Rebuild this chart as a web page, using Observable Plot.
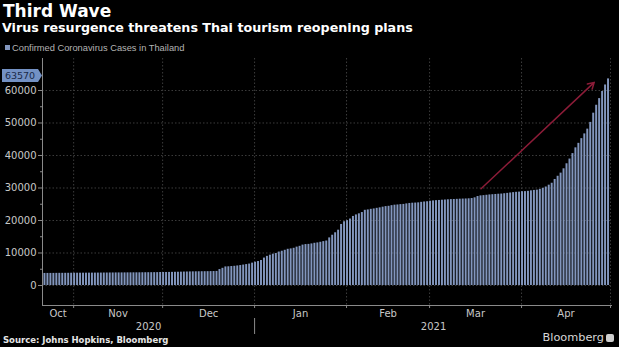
<!DOCTYPE html>
<html>
<head>
<meta charset="utf-8">
<script src="https://cdn.jsdelivr.net/npm/d3@7"></script>
<script src="https://cdn.jsdelivr.net/npm/@observablehq/plot@0.6"></script>
<style>
  html, body { margin: 0; padding: 0; background: #000; }
  body { width: 619px; height: 347px; overflow: hidden; position: relative; font-family: "DejaVu Sans", sans-serif; }
  #title { position: absolute; left: 3px; top: 3px; font: bold 17px/17px "DejaVu Sans"; color: #fff; white-space: nowrap; }
  #subtitle { position: absolute; left: 2px; top: 21px; font: bold 12.7px/13px "DejaVu Sans"; color: #fff; white-space: nowrap; }
  #legend { position: absolute; left: 5px; top: 43px; font: 9.3px/10px "Liberation Sans", sans-serif; color: #b4b4b4; white-space: nowrap; }
  #legend .sw { display: inline-block; width: 5px; height: 5px; background: #8296bd; margin-right: 2px; vertical-align: 1px; }
  #chart { position: absolute; left: 0; top: 56px; }
  #source { position: absolute; left: 3px; top: 335px; font: bold 8.5px/10px "DejaVu Sans"; color: #e6e6e6; white-space: nowrap; }
  #brand { position: absolute; right: 15px; top: 332px; font: 11.3px/12px "DejaVu Sans"; color: #d8d8d8; white-space: nowrap; }
  #logo { position: absolute; right: 5px; top: 334px; width: 8px; height: 8px; border-radius: 2px; background: #cfcfcf; }
</style>
</head>
<body>
<div id="title">Third Wave</div>
<div id="subtitle">Virus resurgence threatens Thai tourism reopening plans</div>
<div id="legend"><span class="sw"></span>Confirmed Coronavirus Cases in Thailand</div>
<div id="chart"></div>
<div id="source">Source: Johns Hopkins, Bloomberg</div>
<div id="brand">Bloomberg</div>
<div id="logo"></div>
<script>
// ---- Data (cumulative confirmed cases, one bar per day from 22 Oct 2020) ----
const firstDay = new Date(Date.UTC(2020, 9, 22));
const octValues = [3709, 3712, 3717, 3722, 3734, 3743, 3746, 3752, 3759, 3775];
const novValues = [3780, 3784, 3787, 3790, 3794, 3800, 3806, 3812, 3821, 3826,
                   3836, 3841, 3852, 3856, 3869, 3873, 3875, 3880, 3888, 3893,
                   3901, 3902, 3910, 3920, 3929, 3941, 3945, 3954, 3961, 3998];
const decValues = [4000, 4008, 4024, 4042, 4067, 4081, 4107, 4136, 4156, 4180,
                   4199, 4211, 4225, 4237, 4246, 4261, 4281, 4297, 4331, 4907,
                   5289, 5716, 5762, 5840, 5910, 6020, 6141, 6285, 6440, 6594, 6884];
const janValues = [7163, 7379, 7694, 8439, 8966, 9331, 9636, 9841, 10298, 10547,
                   10834, 11141, 11262, 11450, 11809, 12054, 12428, 12594, 12653, 12795,
                   12990, 13104, 13300, 13500, 13687, 14646, 15465, 16221, 17023, 18782, 19618];
const febValues = [19952, 20454, 21249, 21716, 22058, 22453, 23134, 23250, 23439, 23557,
                   23743, 23899, 24104, 24279, 24371, 24571, 24714, 24783, 24888, 24949,
                   25111, 25241, 25323, 25365, 25433, 25589, 25693, 25773];
const marValues = [25927, 26031, 26108, 26162, 26241, 26301, 26370, 26438, 26469, 26508,
                   26560, 26598, 26628, 26679, 26762, 26973, 27377, 27577, 27652, 27762,
                   27873, 27938, 28006, 28083, 28135, 28236, 28346, 28469, 28577, 28675, 28734];
const aprValues = [28863, 28889, 28977, 29127, 29254, 29341, 29575, 29905, 30310, 30869,
                   31462, 32625, 33610, 34575, 35910, 37453, 38911, 40585, 42352, 43742,
                   45185, 46643, 48113, 50183, 53022, 55460, 57508, 59687, 61699, 63570];

const monthLabels = ["Oct", "Nov", "Dec", "Jan", "Feb", "Mar", "Apr"];
const yearLabels = ["2020", "2021"];
const yTicks = [0, 10000, 20000, 30000, 40000, 50000, 60000];
const yMinorTicks = [5000, 15000, 25000, 35000, 45000, 55000];

// trend arrow (dates / case counts)
const arrowDates = [new Date(Date.UTC(2021, 2, 18, 8)), new Date(Date.UTC(2021, 3, 25, 12))];
const arrowCases = [29750, 62500];

// ---- Build table ----
const cases = [...octValues, ...novValues, ...decValues, ...janValues, ...febValues, ...marValues, ...aprValues];
const data = cases.map((v, i) => ({date: d3.utcDay.offset(firstDay, i), value: v}));
const lastValue = cases[cases.length - 1];

const xDomain = [new Date(Date.UTC(2020, 9, 21, 12)), new Date(Date.UTC(2021, 4, 1, 16))];
const yDomain = [-6154, 69846];

const monthStarts = d3.utcMonths(d3.utcMonth.ceil(xDomain[0]), xDomain[1]);
const firstMonth = d3.utcMonth.floor(firstDay);
const monthMid = monthLabels.map((lab, i) => {
  const a = Math.max(+d3.utcMonth.offset(firstMonth, i), +xDomain[0]);
  const b = Math.min(+d3.utcMonth.offset(firstMonth, i + 1), +xDomain[1]);
  return {t: new Date((a + b) / 2), label: lab};
});
const monthLabelByTime = new Map(monthMid.map(d => [+d.t, d.label]));
const yearBreaks = d3.utcYears(d3.utcYear.ceil(xDomain[0]), xDomain[1]);
const yearBounds = [xDomain[0], ...yearBreaks, xDomain[1]];
const yearMid = yearLabels.map((lab, i) => ({t: new Date((+yearBounds[i] + +yearBounds[i + 1]) / 2), label: lab}));
const yearLabelByTime = new Map(yearMid.map(d => [+d.t, d.label]));

const barColor = "#8296bd";
const gridColor = "#3c3c3c";
const axisColor = "#8a8a8a";
const textColor = "#c8c8c8";

const plot = Plot.plot({
  width: 619,
  height: 282,
  marginLeft: 42,
  marginRight: 7,
  marginTop: 2,
  marginBottom: 33,
  style: {background: "transparent", color: textColor, fontFamily: "DejaVu Sans", fontSize: "10px", overflow: "visible"},
  x: {type: "utc", domain: xDomain},
  y: {domain: yDomain},
  marks: [
    Plot.gridY(yTicks, {stroke: gridColor, strokeOpacity: 1, strokeDasharray: "1.5,2"}),
    Plot.gridX(monthStarts, {stroke: gridColor, strokeOpacity: 1, strokeDasharray: "1.5,2"}),
    Plot.rectY(data, {x1: "date", x2: d => d3.utcDay.offset(d.date, 1), y: "value", fill: barColor, insetRight: 1}),
    Plot.ruleX([xDomain[0]], {stroke: axisColor}),
    Plot.ruleY([yDomain[0]], {stroke: axisColor}),
    Plot.axisY(yTicks, {tickSize: 4, tickPadding: 2, tickFormat: "d", stroke: axisColor, fill: textColor, fontSize: 10}),
    Plot.axisY(yMinorTicks, {tickSize: 2, tickFormat: () => "", stroke: axisColor}),
    Plot.axisX(monthStarts, {tickSize: 3, tickFormat: () => "", stroke: axisColor}),
    Plot.axisX(monthMid.map(d => d.t), {tickSize: 0, tickPadding: 4, tickFormat: d => monthLabelByTime.get(+d), fill: textColor, fontSize: 10}),
    Plot.axisX(yearBreaks, {tickSize: 16, dy: 13, tickFormat: () => "", stroke: axisColor}),
    Plot.axisX(yearMid.map(d => d.t), {tickSize: 0, tickPadding: 17, tickFormat: d => yearLabelByTime.get(+d), fill: textColor, fontSize: 10}),
    Plot.arrow([{x1: arrowDates[0], y1: arrowCases[0], x2: arrowDates[1], y2: arrowCases[1]}],
      {x1: "x1", y1: "y1", x2: "x2", y2: "y2", stroke: "#8c1c38", strokeWidth: 1.5, headLength: 7})
  ]
});

document.getElementById("chart").appendChild(plot);

// last-value tag on the y axis, positioned through the y scale
const yScale = plot.scale("y");
const yPix = yScale.apply(lastValue) - 3;
const svg = d3.select(plot);
const tag = svg.append("g");
tag.append("path")
  .attr("d", `M2,${yPix - 6.5}H38L42,${yPix}L38,${yPix + 6.5}H2Z`)
  .attr("fill", "#7391c4");
tag.append("text")
  .attr("x", 20).attr("y", yPix).attr("dy", "0.35em")
  .attr("text-anchor", "middle")
  .attr("font-family", "DejaVu Sans").attr("font-size", 9.5)
  .attr("fill", "#1a2a48")
  .text(String(lastValue));
</script>
</body>
</html>
